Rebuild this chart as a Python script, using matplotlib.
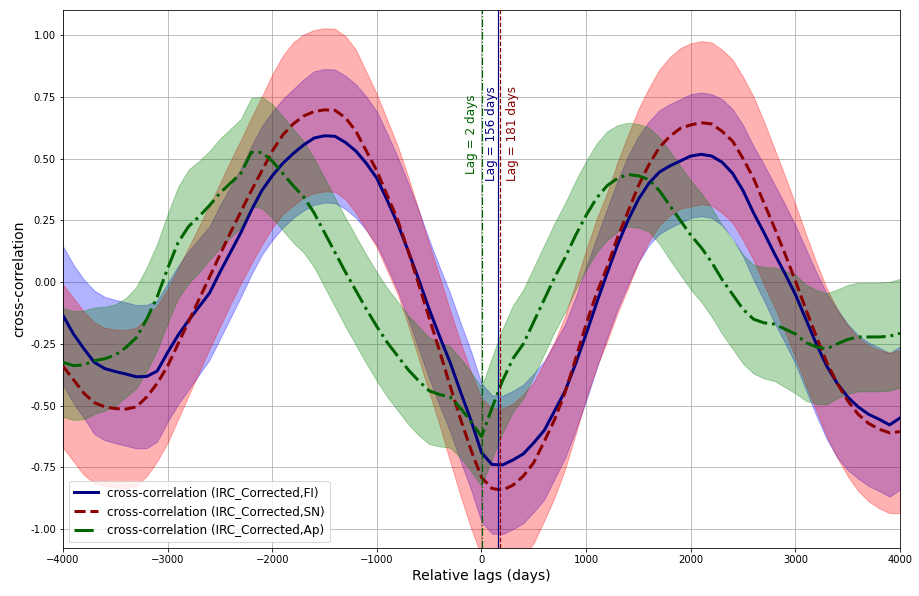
import numpy as np
import matplotlib
matplotlib.use("Agg")
import matplotlib.pyplot as plt
from matplotlib.ticker import FormatStrFormatter

lags = list(range(-4000, 4001, 100))

cc_fi = [-0.135, -0.21, -0.27, -0.325, -0.35, -0.362, -0.372, -0.383, -0.382, -0.36, -0.285,
         -0.215, -0.155, -0.10, -0.045, 0.04, 0.12, 0.20, 0.29, 0.37, 0.43,
         0.48, 0.52, 0.555, 0.583, 0.592, 0.59, 0.565, 0.53, 0.48, 0.42,
         0.33, 0.235, 0.125, 0.01, -0.11, -0.22, -0.325, -0.445, -0.56, -0.69,
         -0.738, -0.74, -0.72, -0.695, -0.65, -0.60, -0.52, -0.44, -0.33, -0.21,
         -0.085, 0.035, 0.15, 0.25, 0.335, 0.40, 0.445, 0.47, 0.49, 0.51,
         0.517, 0.51, 0.485, 0.44, 0.37, 0.28, 0.20, 0.115, 0.035, -0.05,
         -0.15, -0.25, -0.34, -0.41, -0.465, -0.505, -0.535, -0.555, -0.578, -0.55]
cc_sn = [-0.34, -0.395, -0.45, -0.488, -0.505, -0.512, -0.514, -0.505, -0.465, -0.41, -0.34,
         -0.25, -0.16, -0.07, 0.02, 0.11, 0.20, 0.285, 0.37, 0.45, 0.53,
         0.595, 0.64, 0.672, 0.69, 0.697, 0.695, 0.665, 0.61, 0.53, 0.45,
         0.35, 0.25, 0.125, -0.01, -0.145, -0.28, -0.42, -0.555, -0.68, -0.79,
         -0.835, -0.842, -0.822, -0.785, -0.73, -0.645, -0.555, -0.445, -0.31, -0.17,
         -0.045, 0.06, 0.18, 0.285, 0.39, 0.475, 0.545, 0.59, 0.622, 0.636,
         0.645, 0.64, 0.61, 0.57, 0.50, 0.42, 0.32, 0.22, 0.115, 0.005,
         -0.11, -0.22, -0.325, -0.41, -0.48, -0.535, -0.572, -0.595, -0.61, -0.605]
cc_ap = [-0.325, -0.338, -0.335, -0.318, -0.31, -0.295, -0.265, -0.225, -0.15, -0.06, 0.055,
         0.16, 0.225, 0.265, 0.31, 0.36, 0.40, 0.44, 0.525, 0.525, 0.49,
         0.44, 0.39, 0.345, 0.28, 0.20, 0.12, 0.04, -0.035, -0.11, -0.18,
         -0.245, -0.30, -0.355, -0.40, -0.44, -0.455, -0.465, -0.51, -0.565, -0.625,
         -0.51, -0.40, -0.31, -0.25, -0.16, -0.07, 0.02, 0.10, 0.19, 0.27,
         0.34, 0.39, 0.42, 0.435, 0.43, 0.415, 0.37, 0.31, 0.25, 0.19,
         0.14, 0.08, 0.01, -0.05, -0.11, -0.15, -0.165, -0.17, -0.19, -0.21,
         -0.245, -0.262, -0.27, -0.25, -0.232, -0.222, -0.222, -0.222, -0.219, -0.207]

err_fi = [0.28, 0.28, 0.28, 0.29, 0.29, 0.29, 0.29, 0.29, 0.29, 0.285, 0.28,
          0.28, 0.28, 0.275, 0.27, 0.27, 0.265, 0.26, 0.26, 0.26, 0.26,
          0.26, 0.26, 0.265, 0.27, 0.27, 0.27, 0.27, 0.27, 0.27, 0.27,
          0.27, 0.27, 0.275, 0.28, 0.28, 0.28, 0.28, 0.28, 0.28, 0.28,
          0.28, 0.28, 0.28, 0.28, 0.28, 0.28, 0.275, 0.27, 0.27, 0.27,
          0.265, 0.26, 0.26, 0.26, 0.255, 0.25, 0.25, 0.25, 0.25, 0.25,
          0.25, 0.25, 0.255, 0.26, 0.265, 0.27, 0.275, 0.28, 0.28, 0.28,
          0.285, 0.29, 0.295, 0.30, 0.295, 0.29, 0.29, 0.29, 0.29, 0.29]
err_sn = [0.33, 0.33, 0.33, 0.325, 0.32, 0.32, 0.32, 0.32, 0.32, 0.315, 0.31,
          0.305, 0.30, 0.295, 0.29, 0.29, 0.29, 0.29, 0.295, 0.30, 0.31,
          0.32, 0.33, 0.33, 0.33, 0.33, 0.33, 0.33, 0.33, 0.32, 0.31,
          0.305, 0.30, 0.30, 0.30, 0.30, 0.30, 0.305, 0.31, 0.315, 0.32,
          0.325, 0.33, 0.33, 0.33, 0.325, 0.32, 0.315, 0.31, 0.305, 0.30,
          0.30, 0.30, 0.305, 0.31, 0.31, 0.31, 0.315, 0.32, 0.325, 0.33,
          0.33, 0.33, 0.33, 0.33, 0.33, 0.33, 0.33, 0.32, 0.315, 0.31,
          0.305, 0.30, 0.30, 0.30, 0.305, 0.31, 0.315, 0.32, 0.325, 0.33]
err_ap = [0.22, 0.22, 0.22, 0.215, 0.21, 0.205, 0.20, 0.205, 0.21, 0.215, 0.22,
          0.225, 0.23, 0.225, 0.22, 0.22, 0.22, 0.22, 0.22, 0.225, 0.23,
          0.23, 0.23, 0.225, 0.22, 0.22, 0.22, 0.22, 0.22, 0.22, 0.22,
          0.22, 0.22, 0.22, 0.22, 0.215, 0.21, 0.205, 0.20, 0.20, 0.20,
          0.205, 0.21, 0.215, 0.22, 0.22, 0.22, 0.22, 0.22, 0.22, 0.22,
          0.22, 0.22, 0.215, 0.21, 0.21, 0.21, 0.215, 0.22, 0.22, 0.22,
          0.22, 0.22, 0.22, 0.22, 0.22, 0.22, 0.225, 0.23, 0.235, 0.24,
          0.235, 0.23, 0.225, 0.22, 0.22, 0.22, 0.22, 0.22, 0.22, 0.22]

best_lags = [2, 156, 181]
lag_labels = ["Lag = 2 days", "Lag = 156 days", "Lag = 181 days"]
series_labels = ["cross-correlation (IRC_Corrected,FI)",
                 "cross-correlation (IRC_Corrected,SN)",
                 "cross-correlation (IRC_Corrected,Ap)"]

fig = plt.figure(figsize=(919 / 72, 596 / 72), dpi=72)
ax = fig.add_axes([63 / 919, 1 - 548 / 596, (900 - 63) / 919, (548 - 10) / 596])

x = np.array(lags)
fi, sn, ap = np.array(cc_fi), np.array(cc_sn), np.array(cc_ap)
efi, esn, eap = np.array(err_fi), np.array(err_sn), np.array(err_ap)

ax.fill_between(x, fi - efi, fi + efi, color="blue", alpha=0.3, zorder=2)
ax.fill_between(x, sn - esn, sn + esn, color="red", alpha=0.3, zorder=2)
ax.fill_between(x, ap - eap, ap + eap, color="green", alpha=0.3, zorder=2)

ax.plot(x, fi, color="navy", lw=3, ls="-", label=series_labels[0], zorder=4)
ax.plot(x, sn, color="darkred", lw=3, ls="--", label=series_labels[1], zorder=4)
ax.plot(x, ap, color="darkgreen", lw=3, ls="-.", label=series_labels[2], zorder=4)

vcolors = ["darkgreen", "navy", "darkred"]
vstyles = ["-.", "-", "--"]
text_x = [-100, 91, 296]
for lg, c, s, t, tx in zip(best_lags, vcolors, vstyles, lag_labels, text_x):
    ax.axvline(lg, color=c, ls=s, lw=1.2, zorder=5)
    ax.text(tx, 0.6, t, rotation=90, color=c, fontsize=12,
            ha="center", va="center", zorder=6)

ax.set_xlim(-4000, 4000)
ax.set_ylim(-1.076, 1.101)
ax.set_yticks(np.arange(-1.0, 1.01, 0.25))
ax.yaxis.set_major_formatter(FormatStrFormatter("%.2f"))
ax.tick_params(labelsize=10)
ax.grid(True, color="#b0b0b0", lw=0.8, zorder=0)
ax.set_axisbelow(True)
ax.set_xlabel("Relative lags (days)", fontsize=14)
ax.set_ylabel("cross-correlation", fontsize=14)
ax.legend(loc="lower left", fontsize=12)

fig.savefig("out.png", dpi=72)
